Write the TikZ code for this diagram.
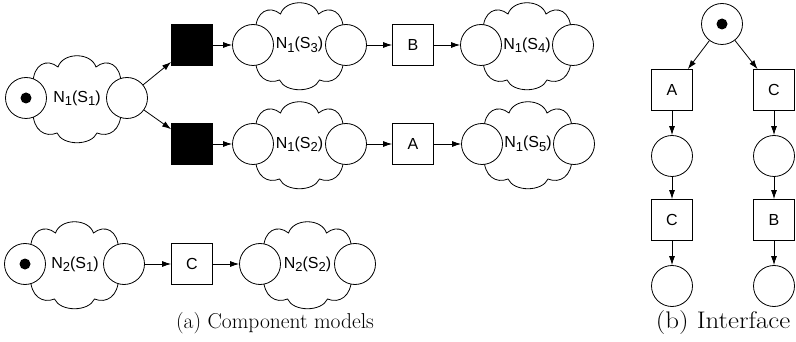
\documentclass[tikz,border=0pt]{standalone}
\usepackage{fontspec}
\newfontfamily\labelfont{Liberation Sans}
\usetikzlibrary{arrows.meta}
\newcommand{\lowidx}[1]{\raisebox{-3.5pt}{\fontsize{13}{13}\selectfont #1}}
\newcommand{\netname}[2]{N\lowidx{#1}(S\lowidx{#2})}
\begin{document}
\begin{tikzpicture}[x=1pt,y=-1pt,
  place/.style={circle,draw,fill=white,minimum size=41pt,inner sep=0pt,line width=0.8pt},
  trans/.style={rectangle,draw,fill=white,minimum size=41pt,inner sep=0pt,line width=0.8pt,
    font=\labelfont\fontsize{16}{18}\selectfont},
  silent/.style={trans,fill=black},
  netlabel/.style={font=\labelfont\fontsize{16}{18}\selectfont,inner sep=0pt},
  token/.style={circle,fill=black,minimum size=11pt,inner sep=0pt},
  arc/.style={-{Latex[length=9pt,width=6pt]},line width=0.8pt},
  caption/.style={font=\fontsize{21.5}{24}\selectfont,inner sep=0pt},
  netcloud/.pic={
    \draw[line width=0.8pt,fill=white]
      (-44,-14) .. controls (-44,-34) and (-30,-40) .. (-19,-31)
                .. controls (-14,-46) and (14,-46) .. (19,-31)
                .. controls (30,-40) and (44,-34) .. (44,-14)
      -- (44,14) .. controls (44,32) and (32,40) .. (20,35)
                .. controls (14,48) and (-14,48) .. (-20,35)
                .. controls (-32,40) and (-44,32) .. (-44,14)
      -- cycle;
  },
]
\useasboundingbox (0,0) rectangle (796,342);

% ---- component N1 ----
\pic (c11) at (77,98) {netcloud};
\node[netlabel] (l11) at (77,98) {\netname{1}{1}};
\node[place] (p11a) at (26,98) {};
\node[token] (k11) at (26,98) {};
\node[place] (p11b) at (127,98) {};

\node[silent] (t1) at (192,45) {};
\node[silent] (t2) at (192,144) {};

\pic (c13) at (299.5,45) {netcloud};
\node[netlabel] (l13) at (299.5,45) {\netname{1}{3}};
\node[place] (p13a) at (253,45) {};
\node[place] (p13b) at (346,45) {};

\pic (c12) at (299.5,144) {netcloud};
\node[netlabel] (l12) at (299.5,144) {\netname{1}{2}};
\node[place] (p12a) at (253,144) {};
\node[place] (p12b) at (346,144) {};

\node[trans] (tb) at (413,45) {B};
\node[trans] (ta) at (413,144) {A};

\pic (c14) at (527,45) {netcloud};
\node[netlabel] (l14) at (527,45) {\netname{1}{4}};
\node[place] (p14a) at (481,45) {};
\node[place] (p14b) at (573,45) {};

\pic (c15) at (528,144) {netcloud};
\node[netlabel] (l15) at (528,144) {\netname{1}{5}};
\node[place] (p15a) at (482,144) {};
\node[place] (p15b) at (574,144) {};

\draw[arc] (p11b) -- (t1);
\draw[arc] (p11b) -- (t2);
\draw[arc] (t1) -- (p13a);
\draw[arc] (t2) -- (p12a);
\draw[arc] (p13b) -- (tb);
\draw[arc] (p12b) -- (ta);
\draw[arc] (tb) -- (p14a);
\draw[arc] (ta) -- (p15a);

% ---- component N2 ----
\pic (c21) at (74.5,264) {netcloud};
\node[netlabel] (l21) at (75,264) {\netname{2}{1}};
\node[place] (p21a) at (25,264) {};
\node[token] (k21) at (25,264) {};
\node[place] (p21b) at (124,264) {};

\node[trans] (tc) at (192,264) {C};

\pic (c22) at (307.5,264) {netcloud};
\node[netlabel] (l22) at (307.5,264) {\netname{2}{2}};
\node[place] (p22a) at (260,264) {};
\node[place] (p22b) at (355,264) {};

\draw[arc] (p21b) -- (tc);
\draw[arc] (tc) -- (p22a);

\node[caption] (capa) at (275,323) {(a) Component models};

% ---- interface ----
\node[place] (i0) at (722,24) {};
\node[token] (ik) at (722,24) {};
\node[trans] (ia) at (672,90) {A};
\node[trans] (ic) at (774,90) {C};
\node[place] (ip1) at (672,156) {};
\node[place] (ip2) at (774,156) {};
\node[trans] (ic2) at (672,220) {C};
\node[trans] (ib) at (774,220) {B};
\node[place] (ip3) at (672,286) {};
\node[place] (ip4) at (774,286) {};

\draw[arc] (i0) -- (ia);
\draw[arc] (i0) -- (ic);
\draw[arc] (ia) -- (ip1);
\draw[arc] (ic) -- (ip2);
\draw[arc] (ip1) -- (ic2);
\draw[arc] (ip2) -- (ib);
\draw[arc] (ic2) -- (ip3);
\draw[arc] (ib) -- (ip4);

\node[caption,font=\fontsize{24}{26}\selectfont] (capb) at (723,323)
  {\scalebox{1.12}[1]{(b) Interface}};
\end{tikzpicture}
\end{document}
